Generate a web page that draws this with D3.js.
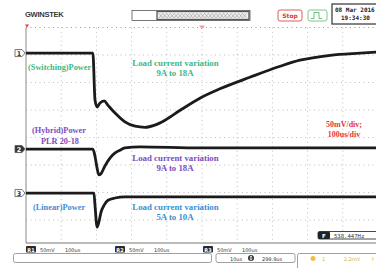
<!DOCTYPE html>
<html><head><meta charset="utf-8">
<script src="https://cdn.jsdelivr.net/npm/d3@7"></script>
<style>body{margin:0;background:#fff;} svg{display:block;}</style>
</head><body><svg id="c" width="376" height="268"></svg>
<script>
// ---- data (time in µs, amplitude in mV relative to channel baseline) ----
const switchingT  = [0,190,196,202,210,222,233,253,281,310,338,366,395,438,494,551,636,722,778,864,949,1000];
const switchingMv = [0,0,-85,-98,-91,-87,-95,-109,-125,-133,-135,-131,-122,-104,-82,-65,-44,-24,-13,-4,0,2];
const hybridT  = [0,190,196,202,207,213,224,239,253,267,281,324,494,1000];
const hybridMv = [0,0,-13,-35,-47,-45,-31,-16,-7,-2,2,4,2,2];
const linearT  = [0,193,196,202,207,213,222,233,253,281,1000];
const linearMv = [0,0,-22,-62,-53,-35,-22,-13,-9,-7,-7];
const channelOffsetDiv = [3.07,-0.42,-2.02];
const voltsPerDivMv = 50;
const timePerDivUs = 100;
const channelNames = ["1","2","3"];
const powerLabels = ["(Switching)Power","(Hybrid)Power","(Linear)Power"];
const loadLabels = ["9A to 18A","9A to 18A","5A to 10A"];
const labelColors = ["#3fb783","#7a4cc0","#3b8ed4"];
const scaleLabels = ["50mV/div;","100us/div"];
const bottomLabels = ["50mV","100us"];

const svg = d3.select("#c");
const x = d3.scaleLinear().domain([0,10*timePerDivUs]).range([26,378]);
const y = d3.scaleLinear().domain([-4,4]).range([247.5,27.5]);

// grid
const g = svg.append("g");
g.selectAll("line.v").data(d3.range(1,10)).join("line")
  .attr("x1",d=>x(d*timePerDivUs)).attr("x2",d=>x(d*timePerDivUs))
  .attr("y1",y(4)).attr("y2",243)
  .attr("stroke","#bdbdbd").attr("stroke-width",1).attr("stroke-dasharray","1,3.4");
g.selectAll("line.h").data(d3.range(-3,5)).join("line")
  .attr("x1",26).attr("x2",376).attr("y1",d=>y(d)).attr("y2",d=>y(d))
  .attr("stroke",d=>d===4?"#999":"#bdbdbd").attr("stroke-width",1).attr("stroke-dasharray","1,3.5");
g.append("line").attr("x1",26).attr("x2",26).attr("y1",y(4)).attr("y2",243).attr("stroke","#888");
g.append("line").attr("x1",26).attr("x2",376).attr("y1",243).attr("y2",243).attr("stroke","#777");
// trigger markers
svg.append("path").attr("d",`M${x(0)-1},${y(4)-3}l4,0l-2,3z`).attr("fill","#e33");
svg.append("path").attr("d",`M${x(500)-3},${y(4)-2}l6,0l-3,4z`).attr("fill","#f0a0a0");

// traces
const line = d3.line().curve(d3.curveMonotoneX);
const series = [[switchingT,switchingMv],[hybridT,hybridMv],[linearT,linearMv]];
series.forEach(([T,V],i)=>{
  const pts = T.map((t,j)=>[x(t), y(channelOffsetDiv[i]+V[j]/voltsPerDivMv)]);
  svg.append("path").attr("d",line(pts)).attr("fill","none")
    .attr("stroke","#1b1b1b").attr("stroke-width",2.8).attr("stroke-linejoin","round");
});

// channel markers
channelNames.forEach((n,i)=>{
  const cy = y(channelOffsetDiv[i]);
  const filled = i===1;
  svg.append("path").attr("d",`M15,${cy-3.5}h7l3,3.5l-3,3.5h-7z`)
    .attr("fill",filled?"#333":"#fff").attr("stroke","#555").attr("stroke-width",0.8);
  svg.append("text").attr("x",19).attr("y",cy+2.5).attr("text-anchor","middle")
    .attr("font-family","DejaVu Sans").attr("font-size",6.5).attr("font-weight","bold")
    .attr("fill",filled?"#fff":"#333").text(n);
});

// annotations
const serif = "'Liberation Serif','Times New Roman',serif";
const powerPos = [[28,70],[32,133],[33,210]];
powerLabels.forEach((t,i)=>{
  svg.append("text").attr("x",powerPos[i][0]).attr("y",powerPos[i][1])
    .attr("font-family",serif).attr("font-weight","bold").attr("font-size",8.3)
    .attr("fill",labelColors[i]).text(t);
});
svg.append("text").attr("x",60).attr("y",143.5).attr("text-anchor","middle")
  .attr("font-family",serif).attr("font-weight","bold").attr("font-size",8.3)
  .attr("fill",labelColors[1]).text("PLR 20-18");
const loadY = [66,161,210];
loadLabels.forEach((t,i)=>{
  svg.append("text").attr("x",175.5).attr("y",loadY[i]).attr("text-anchor","middle")
    .attr("font-family",serif).attr("font-weight","bold").attr("font-size",8.8)
    .attr("fill",labelColors[i]).text("Load current variation");
  svg.append("text").attr("x",175).attr("y",loadY[i]+10).attr("text-anchor","middle")
    .attr("font-family",serif).attr("font-weight","bold").attr("font-size",8.8)
    .attr("fill",labelColors[i]).text(t);
});
scaleLabels.forEach((t,i)=>{
  svg.append("text").attr("x",344).attr("y",127+i*9.5).attr("text-anchor","middle")
    .attr("font-family",serif).attr("font-weight","bold").attr("font-size",8)
    .attr("fill","#e8343c").text(t);
});

// header
svg.append("text").attr("x",25).attr("y",16.5).attr("font-family","Liberation Sans, Arial")
  .attr("font-weight","bold").attr("font-size",7.6).attr("letter-spacing",-0.3)
  .attr("fill","#3a3a3a").text("GWINSTEK");
svg.append("rect").attr("x",132).attr("y",10.5).attr("width",118).attr("height",10)
  .attr("fill","#fff").attr("stroke","#555").attr("stroke-width",0.8);
svg.append("rect").attr("x",157).attr("y",11.5).attr("width",92).attr("height",8)
  .attr("fill","#eee").attr("stroke","#555").attr("stroke-width",1.3);
const zz1 = d3.range(0,24).map(k=>[159+k*3.8, k%2?13.5:18]);
const zz2 = d3.range(0,24).map(k=>[159+k*3.8, k%2?18:13.5]);
[zz1,zz2].forEach(p=>svg.append("path").attr("d",d3.line()(p)).attr("fill","none")
  .attr("stroke","#999").attr("stroke-width",0.6));
svg.append("rect").attr("x",278).attr("y",10).attr("width",24).attr("height",11).attr("rx",2)
  .attr("fill","#fff").attr("stroke","#e55a5a").attr("stroke-width",1);
svg.append("text").attr("x",290).attr("y",18).attr("text-anchor","middle")
  .attr("font-family","DejaVu Sans").attr("font-weight","bold").attr("font-size",6)
  .attr("fill","#e03c3c").text("Stop");
svg.append("rect").attr("x",308).attr("y",10).attr("width",19).attr("height",11).attr("rx",2)
  .attr("fill","#fff").attr("stroke","#7cc98f").attr("stroke-width",1);
svg.append("path").attr("d","M311,18.5h3v-6h5v6h3").attr("fill","none")
  .attr("stroke","#5cb874").attr("stroke-width",0.9);
svg.append("rect").attr("x",332).attr("y",4).attr("width",48).attr("height",20)
  .attr("fill","#fff").attr("stroke","#333").attr("stroke-width",1.2);
svg.append("text").attr("x",335).attr("y",11.5).attr("font-family","DejaVu Sans Mono")
  .attr("font-weight","bold").attr("font-size",6).attr("fill","#223").text("08 Mar 2016");
svg.append("text").attr("x",341).attr("y",20).attr("font-family","DejaVu Sans Mono")
  .attr("font-weight","bold").attr("font-size",6).attr("fill","#223").text("19:34:30");

// frequency readout
svg.append("rect").attr("x",318).attr("y",231.5).attr("width",60).attr("height",7.5).attr("rx",1.5)
  .attr("fill","#fff").attr("stroke","#333").attr("stroke-width",0.9);
svg.append("rect").attr("x",318).attr("y",231.5).attr("width",12).attr("height",7.5).attr("rx",1.5).attr("fill","#222");
svg.append("text").attr("x",324).attr("y",237.8).attr("text-anchor","middle").attr("font-family","DejaVu Sans")
  .attr("font-weight","bold").attr("font-size",5.5).attr("fill","#fff").text("F");
svg.append("text").attr("x",334).attr("y",237.8).attr("font-family","DejaVu Sans Mono")
  .attr("font-size",5.6).attr("fill","#333").text("538.447Hz");

// bottom channel bar
const barX = [26,115,203];
["R1","R2","R3"].forEach((r,i)=>{
  const bx = barX[i];
  svg.append("rect").attr("x",bx).attr("y",246).attr("width",10).attr("height",6.5).attr("rx",1).attr("fill","#2a2a2a");
  svg.append("text").attr("x",bx+5).attr("y",251.5).attr("text-anchor","middle").attr("font-family","DejaVu Sans")
    .attr("font-weight","bold").attr("font-size",5).attr("fill","#fff").text(r);
  svg.append("text").attr("x",bx+14).attr("y",251.5).attr("font-family","DejaVu Sans")
    .attr("font-size",5).attr("fill","#333").text(bottomLabels[0]);
  svg.append("text").attr("x",bx+39).attr("y",251.5).attr("font-family","DejaVu Sans")
    .attr("font-size",5).attr("fill","#333").text(bottomLabels[1]);
});
svg.append("rect").attr("x",13.5).attr("y",253.5).attr("width",198).attr("height",9).attr("rx",2)
  .attr("fill","#fff").attr("stroke","#888").attr("stroke-width",0.8);
svg.append("rect").attr("x",216).attr("y",253.5).attr("width",79).attr("height",9).attr("rx",2)
  .attr("fill","#fff").attr("stroke","#888").attr("stroke-width",0.8);
svg.append("text").attr("x",230).attr("y",260.5).attr("font-family","DejaVu Sans")
  .attr("font-size",5).attr("fill","#333").text("10us");
svg.append("circle").attr("cx",251).attr("cy",258).attr("r",3).attr("fill","#333");
svg.append("path").attr("d","M249.5,257.5l1.5,-2l1.5,2zM249.5,258.5l1.5,2l1.5,-2z").attr("fill","#fff");
svg.append("text").attr("x",262).attr("y",260.5).attr("font-family","DejaVu Sans")
  .attr("font-size",5).attr("fill","#333").text("299.9us");
svg.append("rect").attr("x",297.5).attr("y",253.5).attr("width",90).attr("height",20).attr("rx",2)
  .attr("fill","#fff").attr("stroke","#888").attr("stroke-width",0.8);
svg.append("circle").attr("cx",313).attr("cy",258.5).attr("r",2.5).attr("fill","#f0c040");
svg.append("text").attr("x",322).attr("y",260.5).attr("font-family","DejaVu Sans")
  .attr("font-size",5).attr("fill","#e0b030").text("1");
svg.append("text").attr("x",344).attr("y",260.5).attr("font-family","DejaVu Sans")
  .attr("font-size",5).attr("fill","#e0b030").text("2.2mV");
svg.append("text").attr("x",372).attr("y",260.5).attr("font-family","DejaVu Sans")
  .attr("font-size",5).attr("fill","#e0b030").text("f");
</script></body></html>
